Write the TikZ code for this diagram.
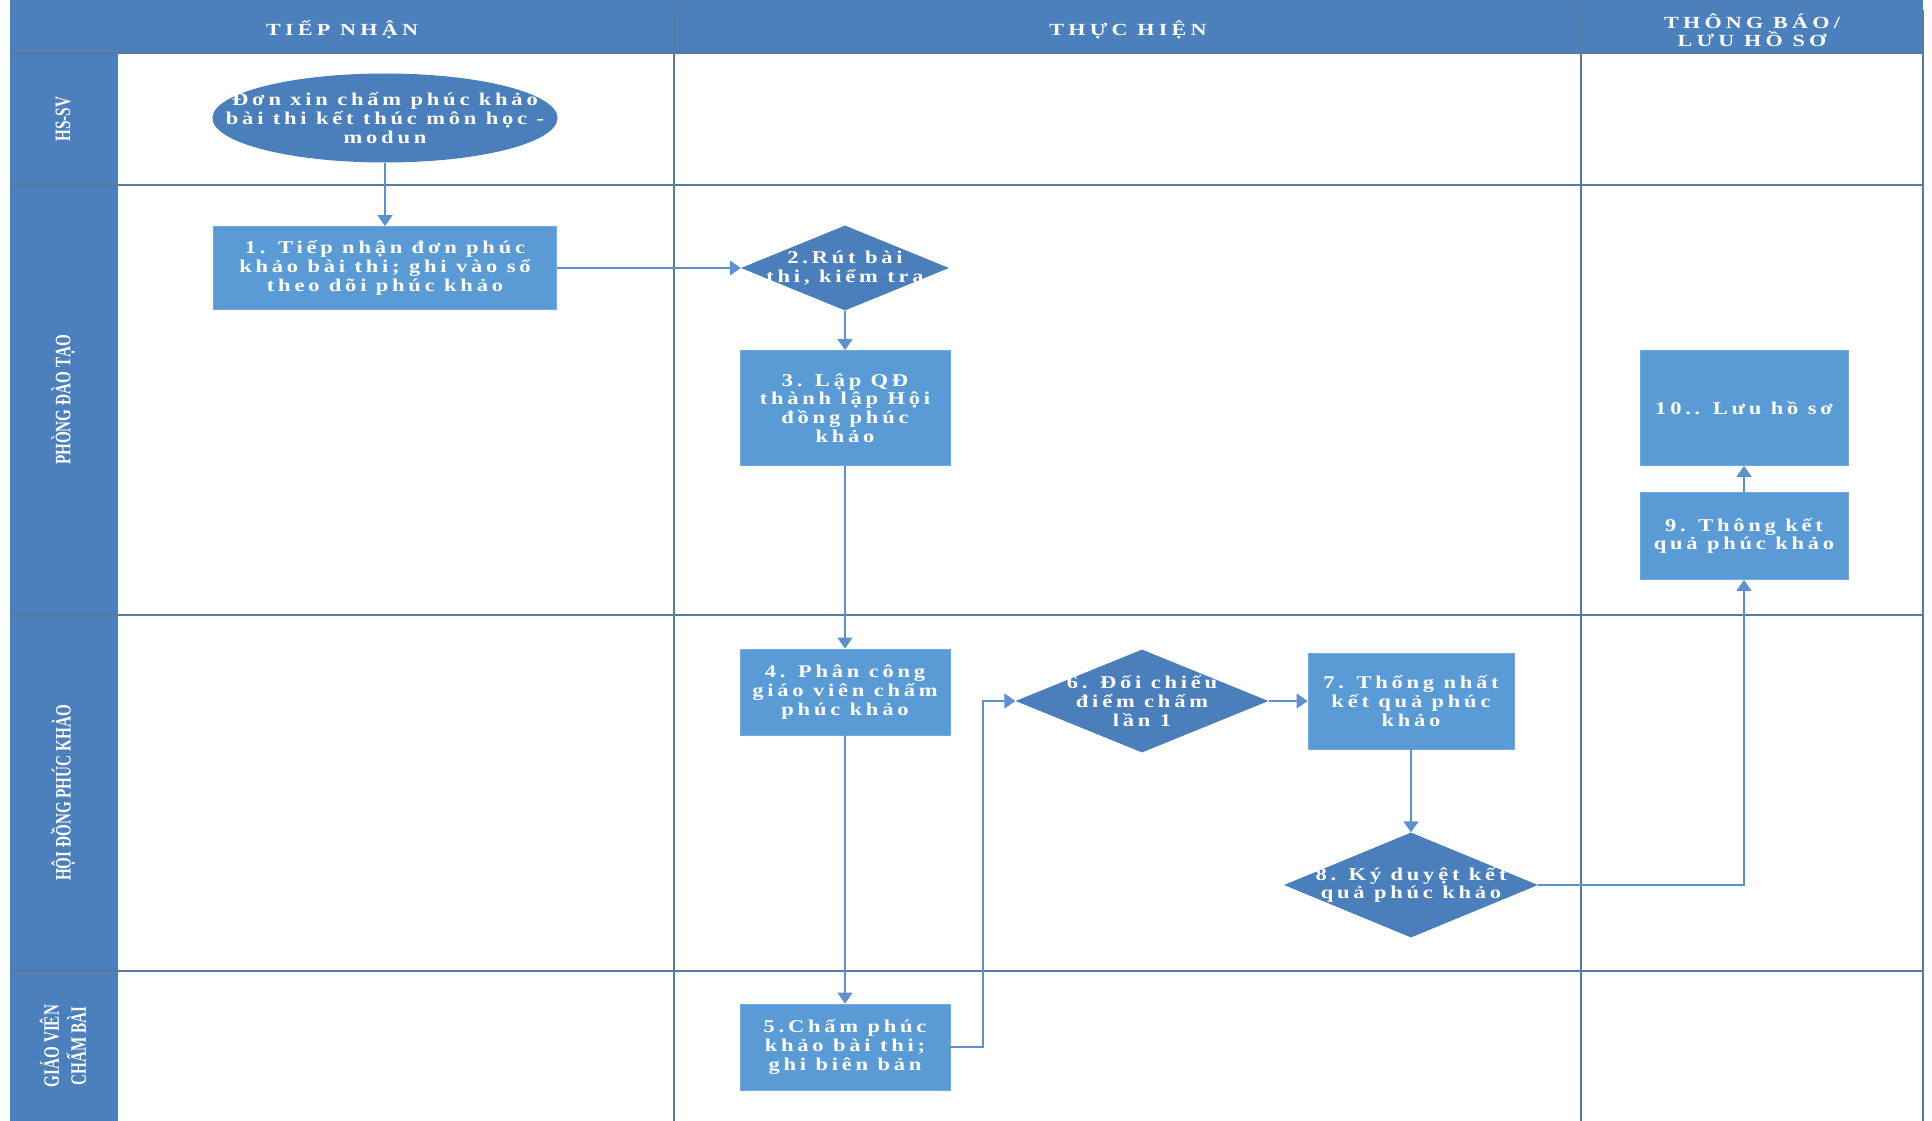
\documentclass[tikz,border=0pt]{standalone}
\usepackage{fontspec}
\setmainfont{Liberation Serif}
\newfontfamily\boxfont[FakeStretch=1.25,LetterSpace=21]{Liberation Serif}
\newfontfamily\headfont[FakeStretch=1.3,LetterSpace=25]{Liberation Serif}
\newfontfamily\lanefont[FakeStretch=0.69]{Liberation Serif}
\usetikzlibrary{shapes.geometric,arrows.meta}
\definecolor{hdrblue}{HTML}{4B80BD}
\definecolor{boxblue}{HTML}{5B9BD5}
\definecolor{diablue}{HTML}{4A7FBC}
\definecolor{gridline}{HTML}{5A7A9E}
\definecolor{connc}{HTML}{5F90CE}
\tikzset{
  boxnode/.style={rectangle, fill=boxblue, draw=boxblue!85!white, line width=0.8pt, inner sep=0pt,
    text=white, align=center, font=\boxfont\bfseries\fontsize{18}{18.7}\selectfont},
  dianode/.style={diamond, fill=diablue, inner sep=0pt, aspect=2},
  ovalnode/.style={ellipse, fill=diablue, inner sep=0pt},
  txtnode/.style={text=white, align=center, inner sep=0pt, font=\boxfont\bfseries\fontsize{18}{18.7}\selectfont},
  headnode/.style={text=white, align=center, inner sep=0pt, font=\headfont\bfseries\fontsize{17}{18}\selectfont},
  lanenode/.style={text=white, align=center, inner sep=0pt, rotate=90, font=\lanefont\bfseries\fontsize{22}{27}\selectfont},
  gridln/.style={draw=gridline, line width=1.4pt},
  conn/.style={draw=connc, line width=1.6pt, -{Triangle[width=15pt,length=11pt]}}
}
\begin{document}
\begin{tikzpicture}[x=1pt,y=-1pt]
\useasboundingbox (0,0) rectangle (1932,1121);
\fill[white] (0,0) rectangle (1932,1121);
% header band and lane column
\fill[hdrblue] (10,0) rectangle (1923,53);
\fill[hdrblue] (10,53) rectangle (117,1121);
\draw[draw=gridline!70!hdrblue, line width=1pt] (10,10) -- (1923,10);
% grid
\draw[gridln] (10,53) -- (1923,53);
\draw[gridln] (10,185) -- (1923,185);
\draw[gridln] (10,615) -- (1923,615);
\draw[gridln] (10,971) -- (1923,971);
\draw[gridln] (674,10) -- (674,1121);
\draw[gridln] (1581,10) -- (1581,1121);
\draw[gridln] (1923,10) -- (1923,1121);
\draw[draw=gridline!60!hdrblue, line width=1pt] (117,53) -- (117,1121);
% column headers
\node[headnode] (h1) at (342,30) {TIẾP NHẬN};
\node[headnode] (h2) at (1128,30) {THỰC HIỆN};
\node[headnode] (h3) at (1752,30) {THÔNG BÁO/\\LƯU HỒ SƠ};
% lane headers
\node[lanenode] (l1) at (63,119) {HS-SV};
\node[lanenode] (l2) at (63,400) {PHÒNG ĐÀO TẠO};
\node[lanenode] (l3) at (63,793) {HỘI ĐỒNG PHÚC KHẢO};
\node[lanenode] (l4) at (63,1046) {GIÁO VIÊN\\CHẤM BÀI};
% nodes
\node[ovalnode, minimum width=345pt, minimum height=89pt] (start) at (385,118) {};
\node[txtnode] (startt) at (start) {Đơn xin chấm phúc khảo\\bài thi kết thúc môn học -\\modun};
\node[boxnode, minimum width=343pt, minimum height=83pt] (b1) at (385,268) {1. Tiếp nhận đơn phúc\\khảo bài thi; ghi vào sổ\\theo dõi phúc khảo};
\node[dianode, minimum width=208pt, minimum height=85pt] (d2) at (845,268) {};
\node[txtnode] (d2t) at (d2) {2.Rút bài\\thi, kiểm tra};
\node[boxnode, minimum width=210pt, minimum height=115pt] (b3) at (845,408) {3. Lập QĐ\\thành lập Hội\\đồng phúc\\khảo};
\node[boxnode, minimum width=210pt, minimum height=86pt] (b4) at (845,692) {4. Phân công\\giáo viên chấm\\phúc khảo};
\node[boxnode, minimum width=210pt, minimum height=86pt] (b5) at (845,1047) {5.Chấm phúc\\khảo bài thi;\\ghi biên bản};
\node[dianode, minimum width=253pt, minimum height=103pt] (d6) at (1142,701) {};
\node[txtnode] (d6t) at (d6) {6. Đối chiếu\\điểm chấm\\lần 1};
\node[boxnode, minimum width=206pt, minimum height=96pt] (b7) at (1411,701) {7. Thống nhất\\kết quả phúc\\khảo};
\node[dianode, minimum width=254pt, minimum height=105pt] (d8) at (1411,885) {};
\node[txtnode] (d8t) at (d8) {8. Ký duyệt kết\\quả phúc khảo};
\node[boxnode, minimum width=208pt, minimum height=87pt] (b9) at (1744,536) {9. Thông kết\\quả phúc khảo};
\node[boxnode, minimum width=208pt, minimum height=115pt] (b10) at (1744,408) {10.. Lưu hồ sơ};
% connectors
\coordinate (k1) at (983,701);
\draw[conn] (start) -- (b1);
\draw[conn] (b1) -- (d2);
\draw[conn] (d2) -- (b3);
\draw[conn] (b3) -- (b4);
\draw[conn] (b4) -- (b5);
\draw[conn] (b5.east) -| (k1) -- (d6.west);
\draw[conn] (d6) -- (b7);
\draw[conn] (b7) -- (d8);
\draw[conn] (d8.east) -| (b9.south);
\draw[conn] (b9) -- (b10);
\end{tikzpicture}
\end{document}
